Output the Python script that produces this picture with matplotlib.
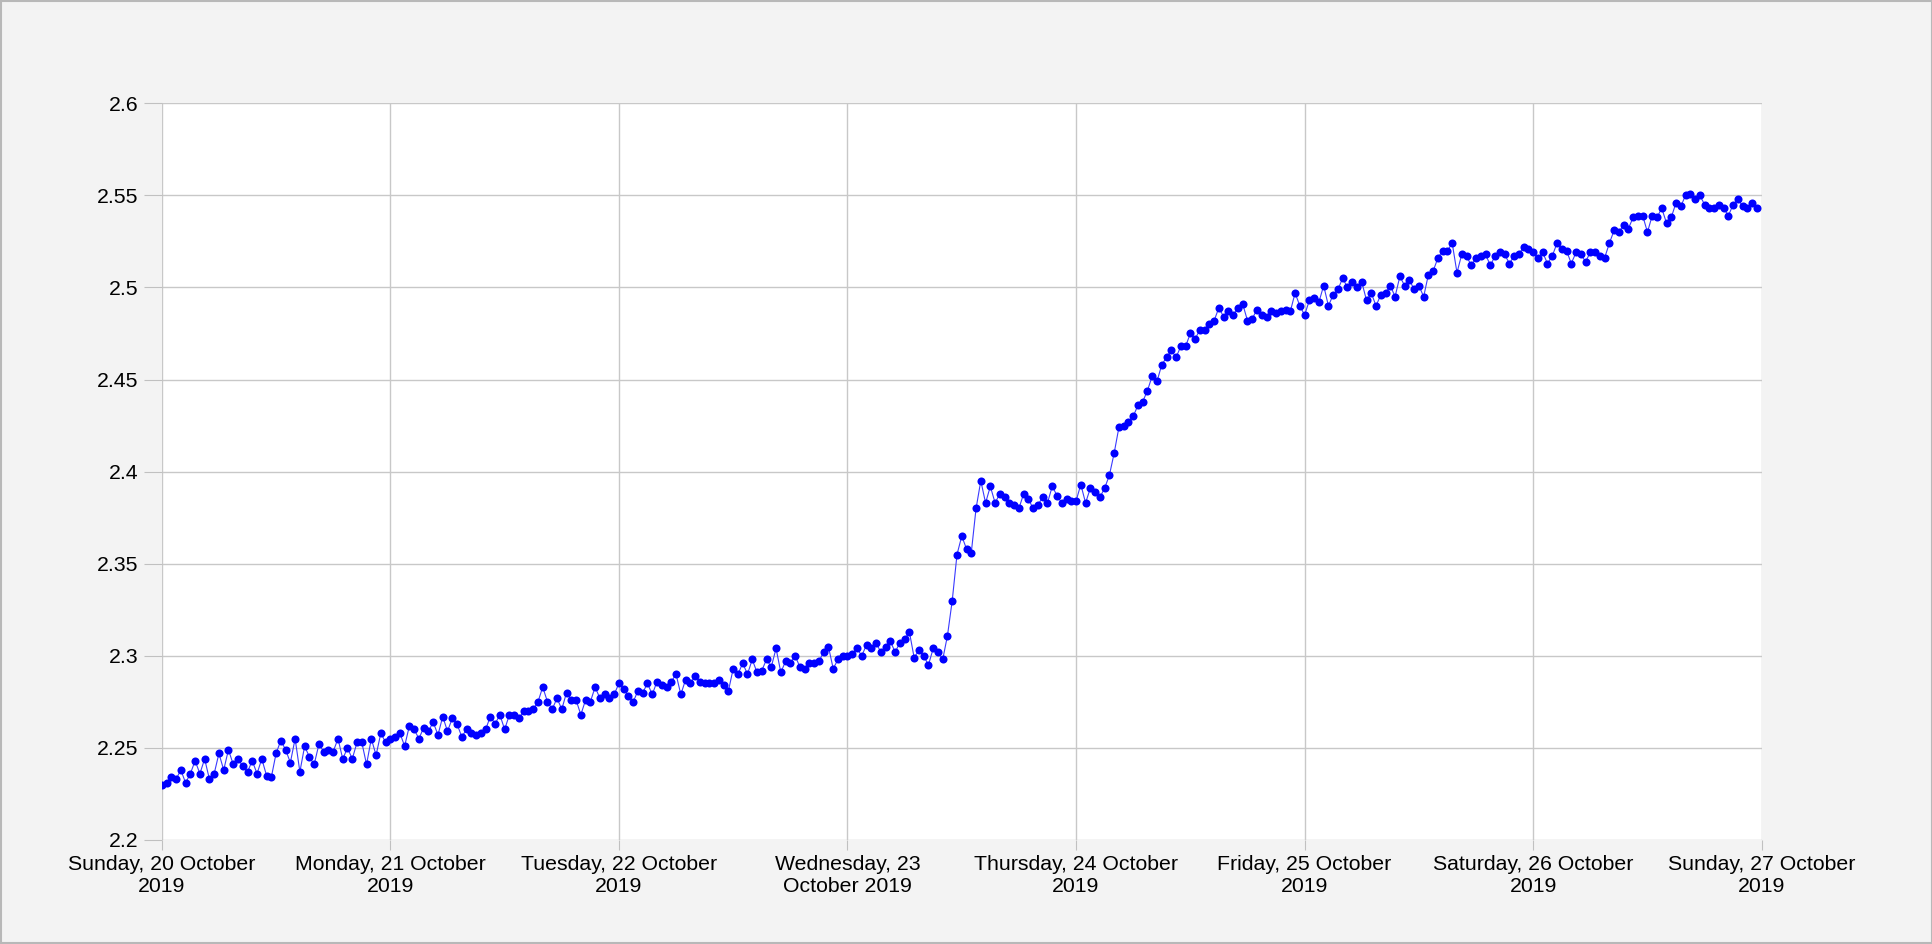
import matplotlib
matplotlib.use("Agg")
import matplotlib.pyplot as plt
from matplotlib.patches import Rectangle
import pandas as pd

plt.rcParams['font.family'] = ['Liberation Sans', 'DejaVu Sans']

# half-hourly readings, one list per day
sun20 = [2.230, 2.231, 2.234, 2.233, 2.238, 2.231, 2.236, 2.243, 2.236, 2.244,
         2.233, 2.236, 2.247, 2.238, 2.249, 2.241, 2.244, 2.240, 2.237, 2.243,
         2.236, 2.244, 2.235, 2.234, 2.247, 2.254, 2.249, 2.242, 2.255, 2.237,
         2.251, 2.245, 2.241, 2.252, 2.248, 2.249, 2.248, 2.255, 2.244, 2.250,
         2.244, 2.253, 2.253, 2.241, 2.255, 2.246, 2.258, 2.253]
mon21 = [2.255, 2.256, 2.258, 2.251, 2.262, 2.260, 2.255, 2.261, 2.259, 2.264,
         2.257, 2.267, 2.259, 2.266, 2.263, 2.256, 2.260, 2.258, 2.257, 2.258,
         2.260, 2.267, 2.263, 2.268, 2.260, 2.268, 2.268, 2.266, 2.270, 2.270,
         2.271, 2.275, 2.283, 2.275, 2.271, 2.277, 2.271, 2.280, 2.276, 2.276,
         2.268, 2.276, 2.275, 2.283, 2.277, 2.279, 2.277, 2.279]
tue22 = [2.285, 2.282, 2.278, 2.275, 2.281, 2.280, 2.285, 2.279, 2.286, 2.284,
         2.283, 2.286, 2.290, 2.279, 2.287, 2.285, 2.289, 2.286, 2.285, 2.285,
         2.285, 2.287, 2.284, 2.281, 2.293, 2.290, 2.296, 2.290, 2.298, 2.291,
         2.292, 2.298, 2.294, 2.304, 2.291, 2.297, 2.296, 2.300, 2.294, 2.293,
         2.296, 2.296, 2.297, 2.302, 2.305, 2.293, 2.298, 2.300]
wed23 = [2.300, 2.301, 2.304, 2.300, 2.306, 2.304, 2.307, 2.302, 2.305, 2.308,
         2.302, 2.307, 2.309, 2.313, 2.299, 2.303, 2.300, 2.295, 2.304, 2.302,
         2.298, 2.311, 2.330, 2.355, 2.365, 2.358, 2.356, 2.380, 2.395, 2.383,
         2.392, 2.383, 2.388, 2.386, 2.383, 2.382, 2.380, 2.388, 2.385, 2.380,
         2.382, 2.386, 2.383, 2.392, 2.387, 2.383, 2.385, 2.384]
thu24 = [2.384, 2.393, 2.383, 2.391, 2.389, 2.386, 2.391, 2.398, 2.410, 2.424,
         2.425, 2.427, 2.430, 2.436, 2.438, 2.444, 2.452, 2.449, 2.458, 2.462,
         2.466, 2.462, 2.468, 2.468, 2.475, 2.472, 2.477, 2.477, 2.480, 2.482,
         2.489, 2.484, 2.487, 2.485, 2.489, 2.491, 2.482, 2.483, 2.488, 2.485,
         2.484, 2.487, 2.486, 2.487, 2.488, 2.487, 2.497, 2.490]
fri25 = [2.485, 2.493, 2.494, 2.492, 2.501, 2.490, 2.496, 2.499, 2.505, 2.500,
         2.503, 2.500, 2.503, 2.493, 2.497, 2.490, 2.496, 2.497, 2.501, 2.495,
         2.506, 2.501, 2.504, 2.499, 2.501, 2.495, 2.507, 2.509, 2.516, 2.520,
         2.520, 2.524, 2.508, 2.518, 2.517, 2.512, 2.516, 2.517, 2.518, 2.512,
         2.517, 2.519, 2.518, 2.513, 2.517, 2.518, 2.522, 2.521]
sat26 = [2.519, 2.516, 2.519, 2.513, 2.517, 2.524, 2.521, 2.520, 2.513, 2.519,
         2.518, 2.514, 2.519, 2.519, 2.517, 2.516, 2.524, 2.531, 2.530, 2.534,
         2.532, 2.538, 2.539, 2.539, 2.530, 2.539, 2.538, 2.543, 2.535, 2.538,
         2.546, 2.544, 2.550, 2.551, 2.548, 2.550, 2.545, 2.543, 2.543, 2.545,
         2.543, 2.539, 2.545, 2.548, 2.544, 2.543, 2.546, 2.543]

values = sun20 + mon21 + tue22 + wed23 + thu24 + fri25 + sat26
times = pd.date_range('2019-10-20', periods=len(values), freq='30min')

day_ticks = pd.date_range('2019-10-20', '2019-10-27', freq='D')
day_labels = ['Sunday, 20 October\n2019', 'Monday, 21 October\n2019',
              'Tuesday, 22 October\n2019', 'Wednesday, 23\nOctober 2019',
              'Thursday, 24 October\n2019', 'Friday, 25 October\n2019',
              'Saturday, 26 October\n2019', 'Sunday, 27 October\n2019']
y_ticks = [2.2, 2.25, 2.3, 2.35, 2.4, 2.45, 2.5, 2.55, 2.6]
y_labels = ['2.2', '2.25', '2.3', '2.35', '2.4', '2.45', '2.5', '2.55', '2.6']

fig = plt.figure(figsize=(19.33, 9.44), dpi=100, facecolor='#f3f3f3')
fig.patches.append(Rectangle((0.0005, 0.001), 0.999, 0.998, transform=fig.transFigure,
                             fill=False, edgecolor='#b8b8b8', linewidth=1.5))
ax = fig.add_axes([0.0837, 0.1102, 0.8277, 0.7804])
ax.set_facecolor('white')

ax.plot(times, values, color='#3a3aff', linewidth=0.8, zorder=2)
ax.plot(times, values, linestyle='none', marker='o', markersize=5.8,
        color='#0000ff', markeredgewidth=0, zorder=3)

ax.set_xlim(day_ticks[0], day_ticks[-1])
ax.set_ylim(2.2, 2.6)
ax.set_xticks(day_ticks)
ax.set_xticklabels(day_labels, fontsize=15.3, linespacing=1.2)
ax.set_yticks(y_ticks)
ax.set_yticklabels(y_labels, fontsize=15.3)

ax.grid(True, color='#c8c8c8', linewidth=1.0, zorder=0)
ax.set_axisbelow(True)
for s in ax.spines.values():
    s.set_visible(False)
ax.tick_params(axis='y', length=13, width=0.8, color='#c0c0c0', pad=4)
ax.tick_params(axis='x', length=7, width=0.8, color='#c0c0c0', pad=4)

fig.savefig('out.png', dpi=100, facecolor=fig.get_facecolor())
